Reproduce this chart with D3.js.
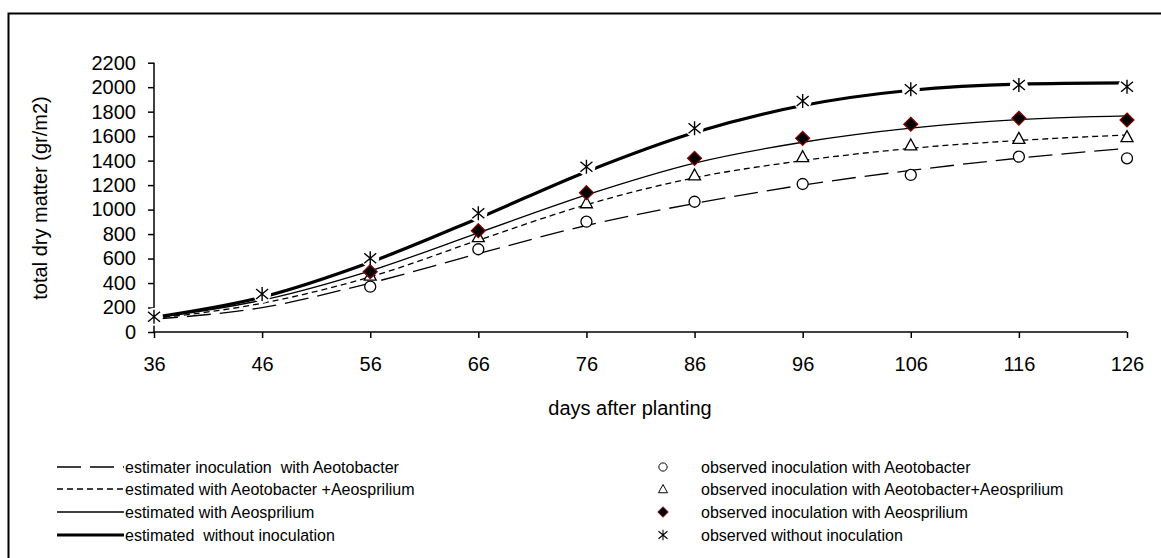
<!DOCTYPE html>
<head>
<meta charset="utf-8">
<script src="https://d3js.org/d3.v7.min.js"></script>
<style>
  body { margin: 0; background: #fff; font-family: "Liberation Sans", Arial, sans-serif; }
  .axis text { font-size: 20px; fill: #000; }
  .legend text { font-size: 16px; fill: #000; white-space: pre; }
</style>
</head>
<body>
<script>
  var days = [36, 46, 56, 66, 76, 86, 96, 106, 116, 126];
  var yTicks = [0, 200, 400, 600, 800, 1000, 1200, 1400, 1600, 1800, 2000, 2200];

  // estimated (fitted) curves
  var estAzoto = [105, 200, 400, 640, 870, 1050, 1200, 1320, 1420, 1500];
  var estBoth = [110, 235, 450, 750, 1040, 1260, 1400, 1500, 1565, 1610];
  var estAzosp = [115, 260, 500, 810, 1120, 1380, 1550, 1665, 1735, 1765];
  var estNone = [120, 285, 570, 930, 1310, 1630, 1850, 1975, 2025, 2035];

  // observed points
  var obsAzoto = [null, null, 370, 676, 901, 1064, 1209, 1283, 1432, 1419];
  var obsBoth = [null, null, 465, 779, 1056, 1283, 1432, 1528, 1582, 1596];
  var obsAzosp = [null, null, 493, 828, 1138, 1419, 1582, 1697, 1746, 1732];
  var obsNone = [125, 310, 602, 970, 1350, 1664, 1887, 1983, 2018, 2004];

  var W = 1161, H = 558;
  var svg = d3.select("body").append("svg").attr("width", W).attr("height", H);

  svg.append("rect")
    .attr("x", 8.5).attr("y", 13.5)
    .attr("width", W + 20).attr("height", H + 20)
    .attr("fill", "none").attr("stroke", "#000").attr("stroke-width", 2);

  var x = d3.scaleLinear().domain([36, 126]).range([154, 1127]);
  var y = d3.scaleLinear().domain([0, 2200]).range([332, 62.7]);

  var xAxis = svg.append("g").attr("class", "axis")
    .attr("transform", "translate(0,332)")
    .call(d3.axisBottom(x).tickValues(days).tickSize(6).tickPadding(19).tickFormat(d3.format("d")));
  var yAxis = svg.append("g").attr("class", "axis")
    .attr("transform", "translate(154,0)")
    .call(d3.axisLeft(y).tickValues(yTicks).tickSize(6).tickPadding(12).tickFormat(d3.format("d")));
  svg.selectAll(".axis .domain").attr("stroke", "#000").attr("stroke-width", 1.5);
  svg.selectAll(".axis .tick line").attr("stroke", "#000").attr("stroke-width", 1.5);
  svg.selectAll(".axis text").style("font-family", "'Liberation Sans', Arial, sans-serif");
  xAxis.select(".domain").attr("d", "M154,0H1127");
  yAxis.select(".domain").attr("d", "M0,62.7V332");

  svg.append("text")
    .attr("x", 630).attr("y", 415)
    .attr("text-anchor", "middle")
    .style("font-size", "20px")
    .text("days after planting");

  svg.append("text")
    .attr("transform", "translate(47,198) rotate(-90)")
    .attr("text-anchor", "middle")
    .style("font-size", "20px")
    .text("total dry matter (gr/m2)");

  var line = d3.line()
    .defined(function(d) { return d[1] != null; })
    .x(function(d) { return x(d[0]); })
    .y(function(d) { return y(d[1]); })
    .curve(d3.curveMonotoneX);

  function pairs(vals) {
    return days.map(function(d, i) { return [d, vals[i]]; });
  }

  var estStyles = [
    { vals: estAzoto, width: 1.3, dash: "24,9", name: "estimater inoculation  with Aeotobacter" },
    { vals: estBoth, width: 1.3, dash: "6,4", name: "estimated with Aeotobacter +Aeosprilium" },
    { vals: estAzosp, width: 1.3, dash: null, name: "estimated with Aeosprilium" },
    { vals: estNone, width: 3.2, dash: null, name: "estimated  without inoculation" }
  ];

  estStyles.forEach(function(s) {
    svg.append("path")
      .attr("d", line(pairs(s.vals)))
      .attr("fill", "none")
      .attr("stroke", "#000")
      .attr("stroke-width", s.width)
      .attr("stroke-dasharray", s.dash);
  });

  function drawMarker(g, type) {
    if (type === "circle") {
      g.append("circle").attr("r", 5.5).attr("fill", "#fff").attr("stroke", "#000").attr("stroke-width", 1.3);
    } else if (type === "triangle") {
      g.append("path").attr("d", "M0,-6L6,5H-6Z").attr("fill", "#fff").attr("stroke", "#000").attr("stroke-width", 1.3);
    } else if (type === "diamond") {
      g.append("path").attr("d", "M0,-7L7,0L0,7L-7,0Z").attr("fill", "#000").attr("stroke", "#8b0000").attr("stroke-width", 1.2);
    } else if (type === "star") {
      g.append("path")
        .attr("d", "M0,-7V7M-6,-5L6,5M-6,5L6,-5")
        .attr("stroke", "#000").attr("stroke-width", 1.4).attr("fill", "none");
    }
  }

  var obsSeries = [
    { vals: obsAzoto, type: "circle", name: "observed inoculation with Aeotobacter" },
    { vals: obsBoth, type: "triangle", name: "observed inoculation with Aeotobacter+Aeosprilium" },
    { vals: obsAzosp, type: "diamond", name: "observed inoculation with Aeosprilium" },
    { vals: obsNone, type: "star", name: "observed without inoculation" }
  ];

  // white gaps round the asterisks, like the original
  svg.selectAll("circle.halo")
    .data(pairs(obsNone))
    .enter().append("circle")
    .attr("class", "halo")
    .attr("cx", function(d) { return x(d[0]); })
    .attr("cy", function(d) { return y(d[1]); })
    .attr("r", 9).attr("fill", "#fff");

  obsSeries.forEach(function(s) {
    svg.selectAll(null)
      .data(pairs(s.vals).filter(function(d) { return d[1] != null; }))
      .enter().append("g")
      .attr("transform", function(d) { return "translate(" + x(d[0]) + "," + y(d[1]) + ")"; })
      .each(function() { drawMarker(d3.select(this), s.type); });
  });

  // legend
  var legend = svg.append("g").attr("class", "legend");
  var rowY = [467, 489, 512, 535];

  estStyles.forEach(function(s, i) {
    legend.append("line")
      .attr("x1", 57).attr("x2", 124)
      .attr("y1", rowY[i]).attr("y2", rowY[i])
      .attr("stroke", "#000")
      .attr("stroke-width", s.width)
      .attr("stroke-dasharray", s.dash);
    legend.append("text")
      .attr("x", 125).attr("y", rowY[i]).attr("dy", "0.35em")
      .text(s.name);
  });

  obsSeries.forEach(function(s, i) {
    var g = legend.append("g").attr("transform", "translate(663," + rowY[i] + ") scale(0.75)");
    drawMarker(g, s.type);
    legend.append("text")
      .attr("x", 701).attr("y", rowY[i]).attr("dy", "0.35em")
      .text(s.name);
  });
</script>
</body>
